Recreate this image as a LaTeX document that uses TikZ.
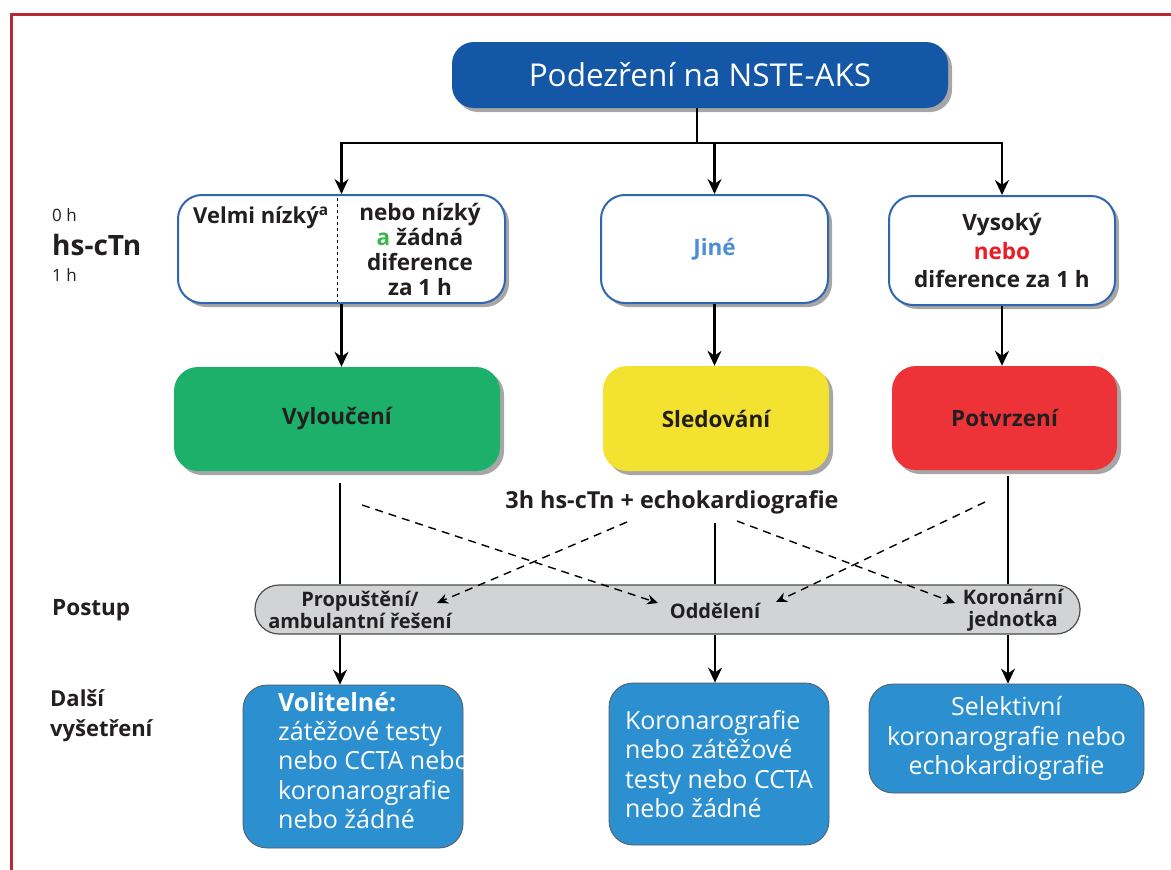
\documentclass[tikz,border=0pt]{standalone}
\usepackage{fontspec}
\setmainfont{Open Sans}
\usetikzlibrary{arrows.meta,shadows}
\definecolor{frame}{HTML}{B42B35}
\definecolor{tblue}{HTML}{1457A6}
\definecolor{bblue}{HTML}{2E66B0}
\definecolor{jblue}{HTML}{4C8FD4}
\definecolor{cgreen}{HTML}{1DB06B}
\definecolor{cyellow}{HTML}{F3E22F}
\definecolor{cred}{HTML}{EE3338}
\definecolor{agreen}{HTML}{3DB54A}
\definecolor{nred}{HTML}{ED1C24}
\definecolor{gbar}{HTML}{D1D3D4}
\definecolor{lblue}{HTML}{2C90D0}
\definecolor{txt}{HTML}{231F20}
\tikzset{
  shad/.style={drop shadow={shadow xshift=4pt,shadow yshift=-4pt,opacity=.35,fill=black}},
  rbox/.style={rounded corners=24pt, shad, inner sep=0pt},
  wbox/.style={rbox, draw=bblue, line width=2pt, fill=white},
  bfont/.style={font=\fontsize{22.5}{25}\selectfont\bfseries},
  cbox/.style={rbox, text=txt, bfont},
  bbox/.style={rounded corners=24pt, fill=lblue, draw=black!65, line width=0.8pt, text=white, inner sep=0pt, font=\fontsize{25}{29.3}\selectfont},
  conn/.style={line width=2.2pt, black},
  arr/.style={conn, -{Stealth[length=15pt,width=14pt]}},
  darr/.style={line width=1.4pt, dash pattern=on 8pt off 6pt, -{Stealth[length=11pt,width=10pt]}},
  lbl/.style={anchor=west, text=txt, inner sep=0pt},
  bartxt/.style={align=center, inner sep=0pt, text=txt, font=\fontsize{20}{22}\selectfont\bfseries},
}
\begin{document}
\begin{tikzpicture}[x=1pt,y=-1pt]
\useasboundingbox (0,0) rectangle (1171,870);
\fill[white] (0,0) rectangle (1171,870);
\draw[frame, line width=3pt] (11,870) -- (11,14) -- (1171,14);

% title
\node[rbox, rounded corners=22pt, fill=tblue, minimum width=496pt, minimum height=66pt, text=white, font=\fontsize{31.5}{34}\selectfont] (title) at (700,75) {Podezření na NSTE-AKS};

% hs-cTn boxes
\node[wbox, minimum width=327pt, minimum height=108pt] (low) at (341.5,249) {};
\draw[dashed, line width=0.8pt] (337,198) -- (337,302);
\node[anchor=base west, inner sep=0pt, text=txt, font=\fontsize{22}{25}\selectfont\bfseries] (vn) at (193,223) {Velmi nízký\textsuperscript{a}};
\node[anchor=north, align=center, inner sep=0pt, text=txt, bfont] (nn) at (420,203) {nebo nízký\\{\color{agreen}a} žádná\\diference\\za 1 h};
\node[wbox, minimum width=227pt, minimum height=108pt, text=jblue, bfont] (jine) at (714.5,249) {Jiné};
\node[wbox, minimum width=226pt, minimum height=109pt, text=txt, align=center, font=\fontsize{22.5}{28.5}\selectfont\bfseries] (high) at (1002,250.5) {Vysoký\\{\color{nred}nebo}\\diference za 1 h};

% outcome boxes
\node[cbox, fill=cgreen, minimum width=326pt, minimum height=104pt] (green) at (337,419) {Vyloučení};
\node[cbox, fill=cyellow, minimum width=226pt, minimum height=105pt] (yellow) at (716,418.5) {Sledování};
\node[cbox, fill=cred, minimum width=225pt, minimum height=104pt] (red) at (1004.5,418) {Potvrzení};

\node[inner sep=0pt, text=txt, font=\fontsize{23.4}{26}\selectfont\bfseries] (echo) at (672,502) {3h hs-cTn + echokardiografie};

% bar
\node[draw=black!70, line width=1.2pt, fill=gbar, rounded corners=24pt, minimum width=825pt, minimum height=49pt, inner sep=0pt] (bar) at (667.5,609.5) {};
\node[bartxt] (prop) at (360,610) {Propuštění/\\ambulantní řešení};
\node[bartxt] (odd) at (715,611) {Oddělení};
\node[bartxt] (kor) at (1013,610) {Koronární\\jednotka};

% bottom boxes
\node[bbox, minimum width=220pt, minimum height=163pt] (boxa) at (353,766.5) {};
\node[anchor=north west, align=left, inner sep=0pt, text=white, font=\fontsize{25}{29.3}\selectfont] (ta) at (278,692) {\textbf{Volitelné:}\\zátěžové testy\\nebo CCTA nebo\\koronarografie\\nebo žádné};
\node[bbox, minimum width=220pt, minimum height=162pt, align=left] (boxb) at (719,764) {Koronarografie\\nebo zátěžové\\testy nebo CCTA\\nebo žádné};
\node[bbox, minimum width=275pt, minimum height=109pt, align=center] (boxc) at (1006.5,738.5) {Selektivní\\koronarografie nebo\\echokardiografie};

% left labels
\node[lbl, font=\fontsize{17}{18}\selectfont] (t0) at (52,215) {0 h};
\node[lbl, font=\fontsize{28}{30}\selectfont\bfseries] (hs) at (52,245) {hs-cTn};
\node[lbl, font=\fontsize{17}{18}\selectfont] (t1) at (52,275) {1 h};
\node[lbl, font=\fontsize{22.5}{25}\selectfont\bfseries] (postup) at (52,610) {Postup};
\node[lbl, anchor=north west, align=left, font=\fontsize{22}{30}\selectfont\bfseries] (dalsi) at (50,689) {Další\\vyšetření};

% top connectors
\coordinate (split) at (697,143);
\draw[conn] (title.south -| split) -- (split);
\draw[arr] (split) -| (low.north);
\draw[arr] (split) -| (high.north);
\draw[arr] (jine.north |- split) -- (jine.north);
\draw[arr] (low.south) -- (low.south |- green.north);
\draw[arr] (jine.south) -- (jine.south |- yellow.north);
\draw[arr] (high.south) -- (high.south |- red.north);

% solid connectors through the bar
\coordinate (gl) at (340,483);
\coordinate (ml) at (715,523);
\coordinate (rl) at (1008,476);
\draw[conn] (gl) -- (gl |- bar.north);
\draw[arr] (gl |- bar.south) -- (gl |- boxa.north);
\draw[conn] (ml) -- (ml |- bar.north);
\draw[arr] (ml |- bar.south) -- (ml |- boxb.north);
\draw[conn] (rl) -- (rl |- bar.north);
\draw[arr] (rl |- bar.south) -- (rl |- boxc.north);

% dashed connectors
\coordinate (d1s) at (362,505); \coordinate (d1e) at (658,603);
\coordinate (d2s) at (627,522); \coordinate (d2e) at (437,603);
\coordinate (d3s) at (737,521); \coordinate (d3e) at (955,603);
\coordinate (d4s) at (985,502); \coordinate (d4e) at (776,602);
\draw[darr] (d1s) -- (d1e);
\draw[darr] (d2s) -- (d2e);
\draw[darr] (d3s) -- (d3e);
\draw[darr] (d4s) -- (d4e);
\end{tikzpicture}
\end{document}
